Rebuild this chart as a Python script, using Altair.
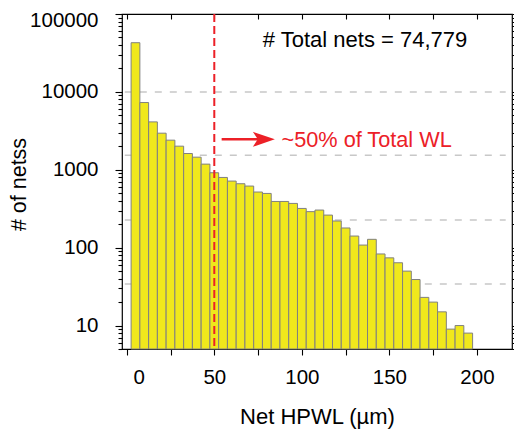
import altair as alt
import pandas as pd

# ---- data ----
bin_centers = [5, 10, 15, 20, 25, 30, 35, 40, 45, 50, 55, 60, 65, 70, 75, 80, 85, 90, 95, 100,
               105, 110, 115, 120, 125, 130, 135, 140, 145, 150, 155, 160, 165, 170, 175, 180,
               185, 190, 195]
counts = [42800, 7300, 4120, 2950, 2400, 2010, 1617, 1452, 1182, 916, 797, 716, 662, 618, 518,
          497, 392, 392, 370, 319, 290, 304, 262, 220, 179, 141, 108, 128, 83, 74, 64, 50, 39,
          23, 20, 15, 9, 10, 8]
bin_width = 5
grid_levels = [10000, 1535, 226, 34.2]
x_ticks = [0, 25, 50, 75, 100, 125, 150, 175, 200]
y_major = [10, 100, 1000, 10000, 100000]
total_text = "# Total nets = 74,779"
wl_text = "~50% of Total WL"
cut_x = 50

FONT = "Liberation Sans"
RED = "#ec2027"

bars = pd.DataFrame({
    "lo": [c - bin_width / 2 for c in bin_centers],
    "hi": [c + bin_width / 2 for c in bin_centers],
    "count": counts,
    "base": [5] * len(counts),
})
grid = pd.DataFrame({"g": grid_levels, "gx": [-1.1] * len(grid_levels), "gx2": [216.4] * len(grid_levels)})

y_ticks = [5, 6, 7, 8, 9]
for d in [10, 100, 1000, 10000]:
    y_ticks += [d * k for k in range(1, 10)]
y_ticks.append(100000)

major_test = "indexof([10,100,1000,10000,100000], datum.value) >= 0"

xscale = alt.Scale(domain=[-2.7, 220], nice=False, zero=False)
yscale = alt.Scale(type="log", domain=[5, 100000], nice=False)

# gridlines, carrying the mirrored top / right axes
grid_layer = alt.Chart(grid).mark_rule(color="#c8c8c8", strokeWidth=1.5, strokeDash=[7, 8]).encode(
    y=alt.Y("g:Q", scale=yscale, axis=alt.Axis(
        orient="right", values=y_ticks, labels=False, title=None, grid=False, domain=False,
        tickColor="black", tickWidth=1.1,
        tickSize={"condition": {"test": major_test, "value": 5}, "value": 3})),
    x=alt.X("gx:Q", scale=xscale, axis=alt.Axis(
        orient="top", values=x_ticks, labels=False, title=None, grid=False, domain=False,
        tickColor="black", tickWidth=1.1, tickSize=5, offset=-5)),
    x2="gx2:Q",
)

bar_layer = alt.Chart(bars).mark_rect(fill="#f0e81c", stroke="#808080", strokeWidth=1).encode(
    x=alt.X("lo:Q", scale=xscale, axis=alt.Axis(
        orient="bottom", values=x_ticks,
        labelExpr="datum.value % 50 === 0 ? datum.label : ''",
        labelOffset={"condition": {"test": "datum.value === 0", "value": 12}, "value": 0},
        tickSize=6, tickWidth=1.1, tickColor="black", labelPadding=12,
        labelFontSize=20.5, labelFont=FONT, labelColor="black",
        title="Net HPWL (µm)", titleFont=FONT, titleFontSize=22, titleFontWeight="normal",
        titleColor="black", titleY=57, grid=False, domain=False)),
    x2="hi:Q",
    y=alt.Y("count:Q", scale=yscale, axis=alt.Axis(
        orient="left", values=y_ticks,
        labelExpr=major_test + " ? format(datum.value, 'd') : ''",
        labelOffset={"condition": {"test": "datum.value === 100000", "value": 6.5}, "value": 0},
        tickSize={"condition": {"test": major_test, "value": 7}, "value": 4},
        tickWidth=1.1, tickColor="black", labelPadding=17,
        labelFontSize=20.5, labelFont=FONT, labelColor="black",
        title="# of netss", titleFont=FONT, titleFontSize=21.5, titleFontWeight="normal",
        titleColor="black", titleX=-92, titleY=170, grid=False, domain=False)),
    y2="base:Q",
)

cut_layer = alt.Chart(pd.DataFrame({"x": [cut_x]})).mark_rule(
    color=RED, strokeWidth=2, strokeDash=[8, 4]).encode(
    x=alt.X("x:Q", scale=xscale, axis=None))

arrow_df = pd.DataFrame({"x": [54.2], "x2": [76.0], "y": [2460], "hx": [78.3]})
arrow_line = alt.Chart(arrow_df).mark_rule(color=RED, strokeWidth=2.5).encode(
    x=alt.X("x:Q", scale=xscale, axis=None), x2="x2:Q",
    y=alt.Y("y:Q", scale=yscale, axis=None))
arrow_head = alt.Chart(arrow_df).mark_point(
    shape="M-1,-0.68L1,0L-1,0.68L-0.55,0Z", size=484, filled=True, color=RED, opacity=1,
    strokeWidth=0).encode(
    x=alt.X("hx:Q", scale=xscale, axis=None),
    y=alt.Y("y:Q", scale=yscale, axis=None))

text_df = pd.DataFrame({"x": [77.7, 88.4], "y": [45700, 2390], "t": [total_text, wl_text],
                        "c": ["black", RED], "s": [22, 21.7]})
text_layer = alt.Chart(text_df).mark_text(
    align="left", baseline="middle", font=FONT).encode(
    x=alt.X("x:Q", scale=xscale, axis=None),
    y=alt.Y("y:Q", scale=yscale, axis=None),
    text="t:N",
    color=alt.Color("c:N", scale=None),
    size=alt.Size("s:Q", scale=None),
)

chart = alt.layer(grid_layer, bar_layer, cut_layer, arrow_line, arrow_head, text_layer).resolve_axis(
    x="independent", y="independent"
).properties(
    width=390, height=335,
    autosize=alt.AutoSizeParams(type="none"),
    padding={"left": 114, "top": 6, "right": 2, "bottom": 80},
    background="white",
).configure_view(stroke="black", strokeWidth=1.2)

chart.save("out.html", embed_options={"renderer": "svg", "actions": False})
